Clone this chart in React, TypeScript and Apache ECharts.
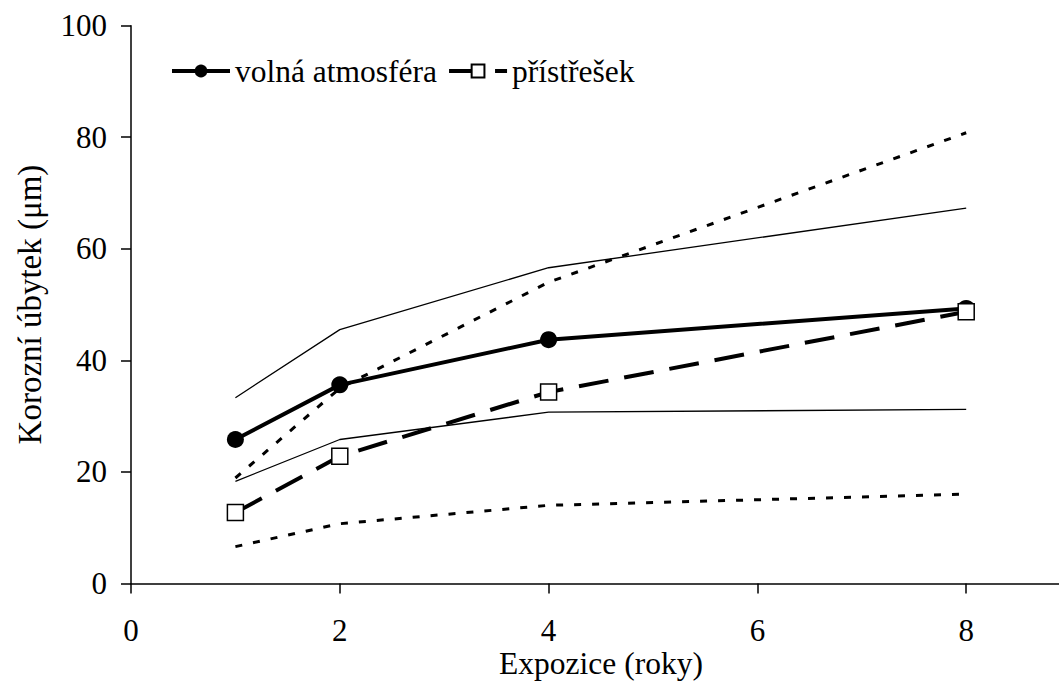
import React, { useEffect, useRef } from "react";
import * as echarts from "echarts";

const years = [1, 2, 4, 8];
const volnaAtmosfera = [25.8, 35.6, 43.7, 49.3];
const pristresek = [12.7, 22.8, 34.3, 48.7];
const volnaHorni = [33.3, 45.5, 56.6, 67.3];
const volnaDolni = [18.3, 25.8, 30.7, 31.2];
const pristresekHorni = [18.9, 35.0, 54.0, 80.8];
const pristresekDolni = [6.6, 10.7, 14.0, 16.0];
const xTicks = [0, 2, 4, 6, 8];
const yTicks = [0, 20, 40, 60, 80, 100];
const xAxisTitle = "Expozice (roky)";
const yAxisTitle = "Korozní úbytek (μm)";

const FONT = "Liberation Serif";

function pairs(vals: number[]) {
  return years.map((x, i) => [x, vals[i]]);
}

export default function App() {
  const ref = useRef<HTMLDivElement>(null);
  useEffect(() => {
    document.body.style.margin = "0";
    document.body.style.overflow = "hidden";
    const chart = echarts.init(ref.current!, null, { renderer: "svg" });
    const boundThin = (name: string, vals: number[]) => ({
      name,
      type: "line",
      data: pairs(vals),
      showSymbol: false,
      symbol: "none",
      lineStyle: { color: "#000", width: 1.3 },
      z: 2,
    });
    const boundDot = (name: string, vals: number[]) => ({
      name,
      type: "line",
      data: pairs(vals),
      showSymbol: false,
      symbol: "none",
      lineStyle: { color: "#000", width: 3, type: [7, 11] },
      z: 2,
    });
    chart.setOption({
      animation: false,
      backgroundColor: "#fff",
      textStyle: { fontFamily: FONT, color: "#000" },
      grid: {
        left: 131,
        right: -116,
        top: 25.7,
        bottom: 98.6,
        outerBoundsMode: "none",
        containLabel: false,
      },
      graphic: [
        {
          type: "text",
          x: 601,
          y: 663,
          style: {
            text: xAxisTitle,
            fontFamily: FONT,
            fontSize: 31.5,
            fill: "#000",
            textAlign: "center",
            textVerticalAlign: "middle",
          },
        },
      ],
      legend: {
        data: [
          { name: "volná atmosféra", lineStyle: { width: 4, color: "#000" } },
          { name: "přístřešek", lineStyle: { width: 4, color: "#000", type: [30, 16] } },
        ],
        left: 170,
        top: 55,
        padding: 0,
        itemWidth: 58,
        itemHeight: 16,
        itemGap: 10,
        textStyle: { fontFamily: FONT, fontSize: 31.5, color: "#000" },
      },
      xAxis: {
        type: "value",
        min: 0,
        max: 10,
        interval: 2,
        axisLine: { show: true, lineStyle: { color: "#000", width: 1.5 } },
        axisTick: { show: true, length: 10, lineStyle: { color: "#000", width: 1.5 } },
        splitLine: { show: false },
        axisLabel: {
          fontFamily: FONT,
          fontSize: 31,
          color: "#000",
          margin: 32,
          formatter: (v: number) => (xTicks.includes(v) ? String(v) : ""),
        },
      },
      yAxis: {
        type: "value",
        min: 0,
        max: 100,
        interval: 20,
        name: yAxisTitle,
        nameLocation: "middle",
        nameGap: 85,
        nameTextStyle: { fontFamily: FONT, fontSize: 33, color: "#000" },
        axisLine: { show: true, lineStyle: { color: "#000", width: 1.5 } },
        axisTick: { show: true, length: 10, lineStyle: { color: "#000", width: 1.5 } },
        splitLine: { show: false },
        axisLabel: {
          fontFamily: FONT,
          fontSize: 31,
          color: "#000",
          margin: 24,
          formatter: (v: number) => (yTicks.includes(v) ? String(v) : ""),
        },
      },
      series: [
        boundThin("volná atmosféra – horní mez", volnaHorni),
        boundThin("volná atmosféra – dolní mez", volnaDolni),
        boundDot("přístřešek – horní mez", pristresekHorni),
        boundDot("přístřešek – dolní mez", pristresekDolni),
        {
          name: "volná atmosféra",
          type: "line",
          data: pairs(volnaAtmosfera),
          symbol: "circle",
          symbolSize: 17,
          itemStyle: { color: "#000", borderColor: "#000", borderWidth: 0 },
          lineStyle: { color: "#000", width: 4 },
          z: 3,
        },
        {
          name: "přístřešek",
          type: "line",
          data: pairs(pristresek),
          symbol: "rect",
          symbolSize: 16,
          itemStyle: { color: "#fff", borderColor: "#000", borderWidth: 1.5 },
          lineStyle: { color: "#000", width: 4, type: [30, 16] },
          z: 4,
        },
      ],
    });
    return () => chart.dispose();
  }, []);
  return <div ref={ref} style={{ width: 1059, height: 682 }} />;
}
